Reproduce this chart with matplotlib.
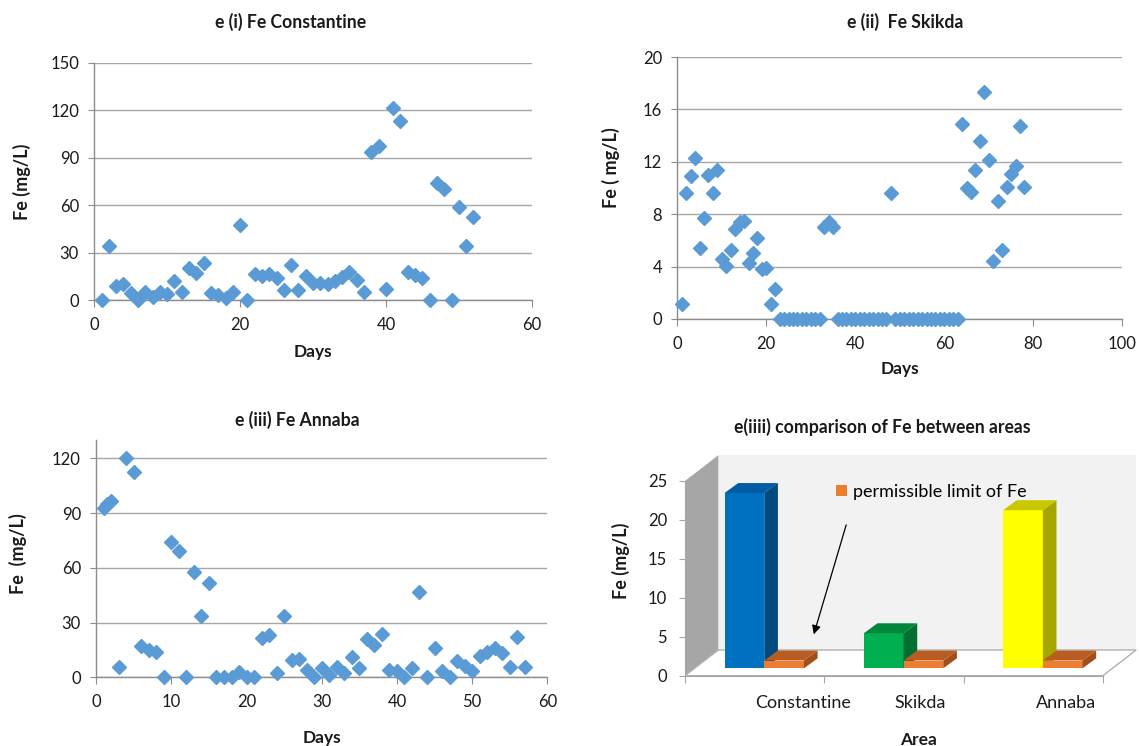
import numpy as np
import matplotlib
matplotlib.use("Agg")
import matplotlib.pyplot as plt
from matplotlib.patches import Polygon

plt.rcParams['font.family'] = ['Lato', 'DejaVu Sans']

# ---- daily Fe readings (mg/L) ----
const_days = list(range(1, 53))
const_fe = [0, 34, 9, 10.4, 4.2, 0, 4.8, 2.1, 5.2, 3.8,
            11.9, 5.2, 20.4, 17.3, 23.6, 4.2, 3.1, 1, 4.8, 47.3,
            0, 16.7, 15.2, 16.7, 13.9, 6.3, 22.3, 6.3, 15.2, 10.5,
            11, 10.1, 12, 14.3, 17.9, 12.6, 5.3, 93.7, 97.3, 6.7,
            121, 113.3, 17.9, 15.8, 14.1, 0, 74, 70, 0, 58.9,
            34.3, 52.2]

skikda_days = list(range(1, 79))
skikda_fe = [1.15, 9.6, 10.9, 12.3, 5.4, 7.7, 11.0, 9.6, 11.4, 4.6,
             4.05, 5.3, 6.9, 7.4, 7.5, 4.3, 5.0, 6.2, 3.85, 3.9,
             1.15, 2.3, 0, 0, 0, 0, 0, 0, 0, 0,
             0, 0, 7.0, 7.4, 7.0, 0, 0, 0, 0, 0,
             0, 0, 0, 0, 0, 0, 0, 9.6, 0, 0,
             0, 0, 0, 0, 0, 0, 0, 0, 0, 0,
             0, 0, 0, 14.9, 10.0, 9.7, 11.4, 13.6, 17.3, 12.1,
             4.45, 9.0, 5.3, 10.1, 11.1, 11.7, 14.7, 10.1]

annaba_days = [1, 1.5, 2] + list(range(3, 58))
annaba_fe = [93, 95, 96.8, 5.5, 120, 112.7, 17.3, 15, 13.7, 0,
             74.3, 69.4, 0, 57.9, 33.8, 51.5, 0, 0, 0, 2.7,
             0, 0, 21.7, 23.2, 2.2, 33.8, 9.3, 10, 3.8, 0,
             4.9, 1.3, 5.8, 2.5, 11, 4.9, 20.8, 17.9, 23.7, 4,
             3.6, 0.4, 4.9, 46.6, 0, 15.9, 3.5, 0, 9.1, 6.4,
             3.6, 11.7, 14, 15.9, 13.1, 5.5, 22.3, 5.5]

# ---- area comparison ----
areas = ['Constantine', 'Skikda', 'Annaba']
area_fe = [22.5, 4.5, 20.3]
fe_limit = [1.0, 1.0, 1.0]

W, H = 1139, 746
GRID = '#a6a6a6'
AXIS = '#8c8c8c'
TXT = '#1a1a1a'
BLUE = '#5b9bd5'

fig = plt.figure(figsize=(W / 100, H / 100), dpi=100)


def px_axes(left, top, right, bottom):
    return fig.add_axes([left / W, 1 - bottom / H, (right - left) / W, (bottom - top) / H])


def px_text(x, y, s, **kw):
    fig.text(x / W, 1 - y / H, s, ha='center', va='center', color=TXT, **kw)


def scatter_panel(ax, days, vals, xmax, xstep, ymax, ystep, ytop=None):
    ax.plot(days, vals, ls='none', marker='D', ms=7.6, color=BLUE, mec=BLUE,
            clip_on=False, zorder=3)
    ax.set_xlim(0, xmax)
    ax.set_ylim(0, ytop if ytop else ymax)
    ax.set_xticks(np.arange(0, xmax + 1, xstep))
    ax.set_yticks(np.arange(0, ymax + 1, ystep))
    ax.yaxis.grid(True, color=GRID, lw=1)
    ax.set_axisbelow(True)
    for s in ('top', 'right'):
        ax.spines[s].set_visible(False)
    for s in ('left', 'bottom'):
        ax.spines[s].set_color(AXIS)
        ax.spines[s].set_linewidth(1)
    ax.tick_params(axis='x', direction='out', length=5, color=AXIS, labelsize=12,
                   labelcolor=TXT, pad=7)
    ax.tick_params(axis='y', direction='out', length=4, color=AXIS, labelsize=12,
                   labelcolor=TXT, pad=7)


ax1 = px_axes(94.3, 62.5, 531.7, 300)
scatter_panel(ax1, const_days, const_fe, 60, 20, 150, 30)
ax2 = px_axes(677.3, 57, 1122.3, 319)
scatter_panel(ax2, skikda_days, skikda_fe, 100, 20, 20, 4)
ax3 = px_axes(96.2, 440, 547.3, 677.3)
scatter_panel(ax3, annaba_days, annaba_fe, 60, 10, 120, 30, ytop=130)

bold = dict(fontweight='bold')
px_text(291, 22, 'e (i) Fe Constantine', fontsize=12.7, **bold)
px_text(905, 22, 'e (ii)  Fe Skikda', fontsize=12.7, **bold)
px_text(297, 420, 'e (iii) Fe Annaba', fontsize=12.7, **bold)
px_text(882, 427, 'e(iiii) comparison of Fe between areas', fontsize=12.7, **bold)

px_text(313, 352, 'Days', fontsize=12.5, **bold)
px_text(900, 369, 'Days', fontsize=12.5, **bold)
px_text(322, 738, 'Days', fontsize=12.5, **bold)

px_text(22, 182, 'Fe (mg/L)', fontsize=13, rotation=90, **bold)
px_text(611, 168, 'Fe ( mg/L)', fontsize=13, rotation=90, **bold)
px_text(18, 554, 'Fe  (mg/L)', fontsize=13, rotation=90, **bold)
px_text(621, 561, 'Fe (mg/L)', fontsize=13, rotation=90, **bold)
px_text(919, 740, 'Area', fontsize=12.5, **bold)

# ---- pseudo-3D column chart ----
ax4 = px_axes(685, 453.7, 1137.7, 675.7)
ax4.set_xlim(-0.5, 2.75)
ax4.set_ylim(0, 28.5)

wall_dx, wall_dy = 0.239, 3.3      # depth of the floor / back wall
bar_dx, bar_dy = 0.069, 0.95       # columns stand part-way into the floor
depth_dx, depth_dy = 0.098, 1.28   # column depth
bar_w = 0.285
ymax4 = 25
x_lo, x_hi = -0.5, 2.5

ax4.add_patch(Polygon([(x_lo + wall_dx, wall_dy), (x_hi + wall_dx, wall_dy),
                       (x_hi + wall_dx, ymax4 + wall_dy), (x_lo + wall_dx, ymax4 + wall_dy)],
                      closed=True, fc='#f2f2f2', ec='none', zorder=1))
ax4.add_patch(Polygon([(x_lo, 0), (x_lo + wall_dx, wall_dy),
                       (x_lo + wall_dx, ymax4 + wall_dy), (x_lo, ymax4)],
                      closed=True, fc='#a6a6a6', ec='none', zorder=1))
ax4.add_patch(Polygon([(x_lo, 0), (x_hi, 0), (x_hi + wall_dx, wall_dy), (x_lo + wall_dx, wall_dy)],
                      closed=True, fc='white', ec='#b0b0b0', lw=1, zorder=1.5))

face_cols = ['#0070c0', '#00b050', '#ffff00']
top_cols = ['#005ca3', '#00873c', '#c8c800']
side_cols = ['#004a80', '#006f32', '#a6a600']
lim_face, lim_top, lim_side = '#ed7d31', '#b95c22', '#a14f1b'


def column_3d(x0, h, front, top, side, z):
    x1 = x0 + bar_w
    b = bar_dy
    ax4.bar([x0], [h], width=bar_w, bottom=b, align='edge', color=front,
            lw=0, zorder=z)
    ax4.add_patch(Polygon([(x1, b), (x1 + depth_dx, b + depth_dy),
                           (x1 + depth_dx, b + h + depth_dy), (x1, b + h)],
                          closed=True, fc=side, ec='none', zorder=z))
    ax4.add_patch(Polygon([(x0, b + h), (x0 + depth_dx, b + h + depth_dy),
                           (x1 + depth_dx, b + h + depth_dy), (x1, b + h)],
                          closed=True, fc=top, ec='none', zorder=z))


for i in range(len(areas)):
    column_3d(i + bar_dx - bar_w, area_fe[i], face_cols[i], top_cols[i], side_cols[i], 3 + 2 * i)
    column_3d(i + bar_dx, fe_limit[i], lim_face, lim_top, lim_side, 4 + 2 * i)

for s in ('top', 'right'):
    ax4.spines[s].set_visible(False)
ax4.spines['left'].set_bounds(0, ymax4)
ax4.spines['bottom'].set_bounds(x_lo, x_hi)
for s in ('left', 'bottom'):
    ax4.spines[s].set_color('#a6a6a6')
ax4.set_yticks(np.arange(0, ymax4 + 1, 5))
ax4.set_xticks([-0.5, 0.5, 1.5, 2.5])
ax4.set_xticklabels([])
ax4.tick_params(axis='y', direction='out', length=4, color='#a6a6a6', labelsize=12,
                labelcolor=TXT, pad=9)
ax4.tick_params(axis='x', direction='out', length=5, color='#a6a6a6')

label_shift = [0.344, 0.19, 0.233]
for i, name in enumerate(areas):
    ax4.text(i + label_shift[i], -3.5, name, ha='center', va='center', fontsize=13,
             color=TXT, clip_on=False)

legend_handle = Polygon([(0, 0)], fc=lim_face)
ax4.legend([legend_handle], ['permissible limit of Fe'], loc='center left',
           bbox_to_anchor=(0.333, 0.829), frameon=False, fontsize=13,
           handlelength=0.6, handleheight=0.6, handletextpad=0.35,
           borderpad=0, borderaxespad=0)

ax4.annotate('', xy=(0.419, 4.97), xytext=(0.663, 19.7),
             arrowprops=dict(arrowstyle='-|>', color='black', lw=0.9, mutation_scale=13),
             zorder=20)

fig.savefig('out.png', dpi=100)
